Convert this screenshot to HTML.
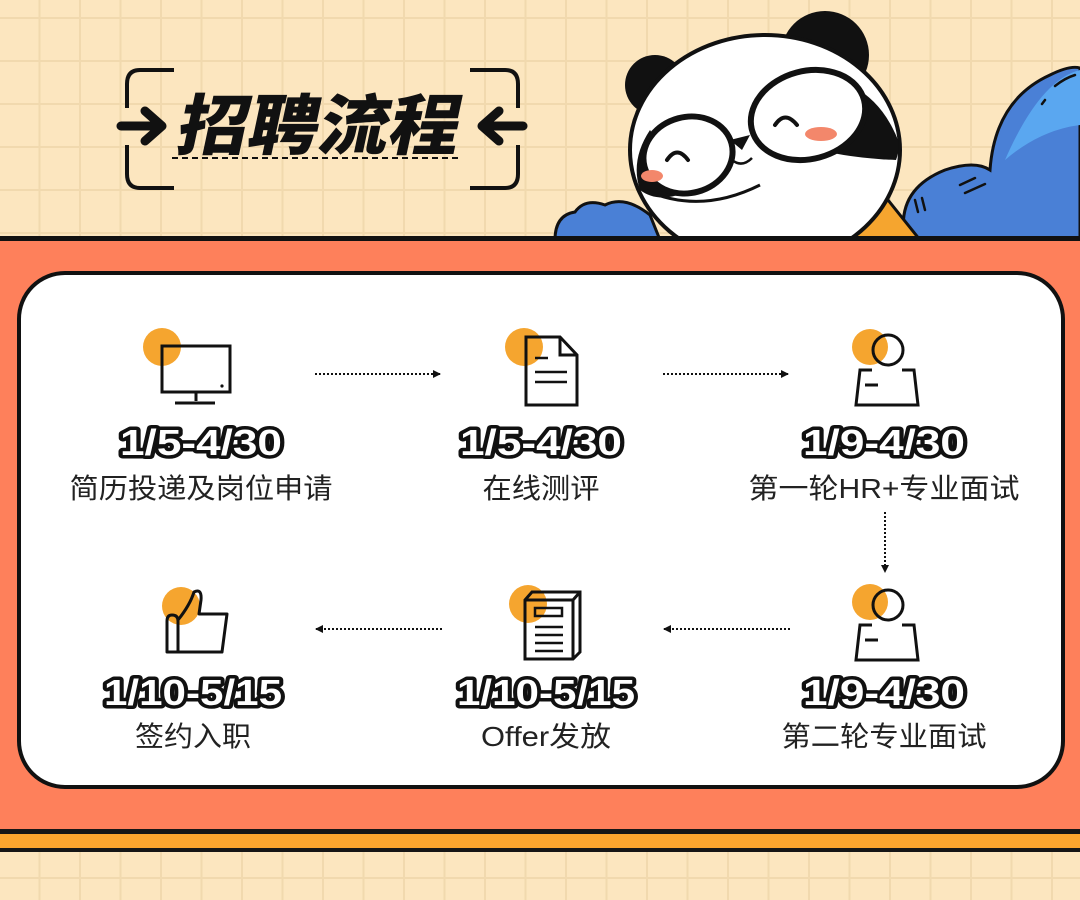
<!DOCTYPE html>
<html><head><meta charset="utf-8"><style>
html,body{margin:0;padding:0;width:1080px;height:900px;overflow:hidden;background:#fce6bf}
svg{display:block}
.d{font-family:"Liberation Sans","DejaVu Sans",sans-serif;font-weight:bold;font-size:36px;fill:#fff;stroke:#111;stroke-width:7;paint-order:stroke;stroke-linejoin:round;text-anchor:middle}
.l{font-family:"Liberation Sans","Noto Sans CJK SC",sans-serif;font-size:28px;fill:#222;text-anchor:middle}
</style></head><body>
<svg width="1080" height="900" viewBox="0 0 1080 900" xmlns="http://www.w3.org/2000/svg">
<defs>
<pattern id="g" x="0" y="0" width="40.5" height="43" patternUnits="userSpaceOnUse">
<rect width="40.5" height="43" fill="#fce6bf"/>
<rect x="38.5" y="0" width="2" height="43" fill="#f1d9ae"/>
<rect x="0" y="17" width="40.5" height="2" fill="#f1d9ae"/>
</pattern>
<marker id="ar" markerWidth="8" markerHeight="8" refX="7" refY="4" orient="auto" markerUnits="userSpaceOnUse"><path d="M0,0 L8,4 L0,8 z" fill="#111"/></marker>
</defs>
<rect width="1080" height="900" fill="url(#g)"/>

<!-- title -->
<g fill="none" stroke="#111" stroke-width="4" stroke-linecap="butt">
<path d="M174,70 H140 Q127,70 127,84 V108"/>
<path d="M127,145 V174 Q127,188 140,188 H174"/>
<path d="M470,70 H505 Q518,70 518,84 V108"/>
<path d="M518,145 V174 Q518,188 505,188 H470"/>
</g>
<g stroke="#111" stroke-width="9" stroke-linecap="round" stroke-linejoin="round" fill="none">
<path d="M121,126 H160 M145,111 L162,126 L145,141"/>
<path d="M523,126 H484 M499,111 L482,126 L499,141"/>
</g>
<text x="320" y="149" text-anchor="middle" font-family="'Noto Sans CJK SC','WenQuanYi Zen Hei',sans-serif" font-weight="900" font-size="66" fill="#111" transform="skewX(-12) translate(27,0)" textLength="282" lengthAdjust="spacingAndGlyphs">招聘流程</text>
<line x1="172" y1="158" x2="460" y2="158" stroke="#111" stroke-width="2" stroke-dasharray="6,4"/>

<!-- clouds -->
<path d="M555,240 Q555,215 575,212 Q585,198 605,205 Q625,195 650,215 L660,240 z" fill="#4a80d6" stroke="#111" stroke-width="3"/>
<path d="M905,240 Q895,190 945,170 Q975,160 990,170 Q995,100 1050,75 Q1070,65 1080,68 V240 z" fill="#4a80d6" stroke="#111" stroke-width="3"/>
<path d="M1005,160 Q1040,80 1080,70 V125 Q1040,130 1005,160 z" fill="#5aa7f0"/>
<g stroke="#111" stroke-width="2.5" stroke-linecap="round"><path d="M960,185 L975,178 M965,193 L985,184 M915,200 L918,212 M922,198 L925,210 M1045,100 L1042,104 M1055,86 Q1065,78 1075,75"/></g>

<!-- panda -->
<path d="M850,240 L880,190 L920,240 z" fill="#f5a52f" stroke="#111" stroke-width="3"/>
<circle cx="655" cy="85" r="30" fill="#111"/>
<circle cx="825" cy="55" r="44" fill="#111"/>
<ellipse cx="765" cy="150" rx="135" ry="115" fill="#fff" stroke="#111" stroke-width="4"/>
<path d="M790,75 Q870,70 898,140 Q900,150 896,160 Q850,158 820,150 Q790,120 770,95 z" fill="#111"/>
<ellipse cx="808" cy="115" rx="58" ry="44" fill="#fff" stroke="#111" stroke-width="6" transform="rotate(-15 808 115)"/>
<path d="M650,130 Q630,160 640,190 Q660,205 690,190 z" fill="#111"/>
<ellipse cx="688" cy="155" rx="45" ry="38" fill="#fff" stroke="#111" stroke-width="6" transform="rotate(-15 688 155)"/>
<path d="M645,190 Q700,215 760,185" fill="none" stroke="#111" stroke-width="3"/>
<path d="M667,160 Q677,145 688,160 M775,125 Q785,110 797,125" fill="none" stroke="#111" stroke-width="4" stroke-linecap="round"/>
<ellipse cx="652" cy="176" rx="11" ry="6" fill="#f3876b"/>
<ellipse cx="821" cy="134" rx="16" ry="7" fill="#f3876b"/>
<path d="M730,140 L750,135 L742,150 z" fill="#111"/>
<path d="M732,160 Q742,168 752,158" fill="none" stroke="#111" stroke-width="2.5"/>

<!-- orange band -->
<rect x="0" y="238" width="1080" height="592" fill="#fe805b"/>
<rect x="0" y="236" width="1080" height="5" fill="#111"/>
<rect x="0" y="829" width="1080" height="5" fill="#161616"/>
<rect x="0" y="834" width="1080" height="14" fill="#fca52e"/>
<rect x="0" y="848" width="1080" height="4" fill="#161616"/>
<rect x="19" y="273" width="1044" height="514" rx="46" fill="#fff" stroke="#111" stroke-width="4"/>

<!-- icons row1 -->
<circle cx="162" cy="347" r="19" fill="#f5a52f"/>
<rect x="162" y="346" width="68" height="46" fill="none" stroke="#111" stroke-width="3"/>
<circle cx="222" cy="386" r="1.6" fill="#111"/>
<path d="M196,392 V401 M175,403 H215" stroke="#111" stroke-width="3"/>

<circle cx="524" cy="347" r="19" fill="#f5a52f"/>
<path d="M526,337 H560 L577,355 V405 H526 z M560,337 V355 H577" fill="none" stroke="#111" stroke-width="3"/>
<path d="M535,358 H548 M535,372 H567 M535,382 H567" stroke="#111" stroke-width="2.5"/>

<circle cx="870" cy="347" r="18" fill="#f5a52f"/>
<circle cx="888" cy="350" r="15" fill="none" stroke="#111" stroke-width="3"/>
<path d="M872,370 H860 L856,405 H918 L914,370 H902" fill="none" stroke="#111" stroke-width="3"/>
<path d="M865,385 H878" stroke="#111" stroke-width="3"/>

<!-- icons row2 -->
<circle cx="181" cy="606" r="19" fill="#f5a52f"/>
<path d="M167,652 V621 Q167,615 172,615 Q178,615 178,621 V652 z M178,620 Q190,605 194,592 Q202,588 201,600 L199,614 H227 L222,652 H178" fill="none" stroke="#111" stroke-width="3" stroke-linejoin="round"/>

<circle cx="528" cy="604" r="19" fill="#f5a52f"/>
<path d="M525,600 L532,592 H580 V652 L573,659 H525 z M525,600 H573 V659 M573,600 L580,592" fill="none" stroke="#111" stroke-width="3"/>
<rect x="535" y="608" width="27" height="8" fill="none" stroke="#111" stroke-width="2.5"/>
<path d="M535,627 H563 M535,635 H563 M535,643 H563 M535,651 H563" stroke="#111" stroke-width="2.5"/>

<circle cx="870" cy="602" r="18" fill="#f5a52f"/>
<circle cx="888" cy="605" r="15" fill="none" stroke="#111" stroke-width="3"/>
<path d="M872,625 H860 L856,660 H918 L914,625 H902" fill="none" stroke="#111" stroke-width="3"/>
<path d="M865,640 H878" stroke="#111" stroke-width="3"/>

<!-- connectors -->
<g stroke="#111" stroke-width="2" stroke-dasharray="2,2" fill="none">
<line x1="315" y1="374" x2="440" y2="374" marker-end="url(#ar)"/>
<line x1="663" y1="374" x2="788" y2="374" marker-end="url(#ar)"/>
<line x1="885" y1="512" x2="885" y2="572" marker-end="url(#ar)"/>
<line x1="442" y1="629" x2="316" y2="629" marker-end="url(#ar)"/>
<line x1="790" y1="629" x2="664" y2="629" marker-end="url(#ar)"/>
</g>

<!-- text -->
<text class="d" x="201" y="455" textLength="162" lengthAdjust="spacingAndGlyphs">1/5-4/30</text>
<text class="d" x="541" y="455" textLength="162" lengthAdjust="spacingAndGlyphs">1/5-4/30</text>
<text class="d" x="884" y="455" textLength="162" lengthAdjust="spacingAndGlyphs">1/9-4/30</text>
<text class="d" x="193" y="705" textLength="178" lengthAdjust="spacingAndGlyphs">1/10-5/15</text>
<text class="d" x="546" y="705" textLength="178" lengthAdjust="spacingAndGlyphs">1/10-5/15</text>
<text class="d" x="884" y="705" textLength="162" lengthAdjust="spacingAndGlyphs">1/9-4/30</text>
<text class="l" x="201" y="498" textLength="263" lengthAdjust="spacingAndGlyphs">简历投递及岗位申请</text>
<text class="l" x="541" y="498" textLength="117" lengthAdjust="spacingAndGlyphs">在线测评</text>
<text class="l" x="884" y="498" textLength="271" lengthAdjust="spacingAndGlyphs">第一轮HR+专业面试</text>
<text class="l" x="193" y="746" textLength="116" lengthAdjust="spacingAndGlyphs">签约入职</text>
<text class="l" x="546" y="746" textLength="130" lengthAdjust="spacingAndGlyphs">Offer发放</text>
<text class="l" x="884" y="746" textLength="205" lengthAdjust="spacingAndGlyphs">第二轮专业面试</text>
</svg>
</body></html>
